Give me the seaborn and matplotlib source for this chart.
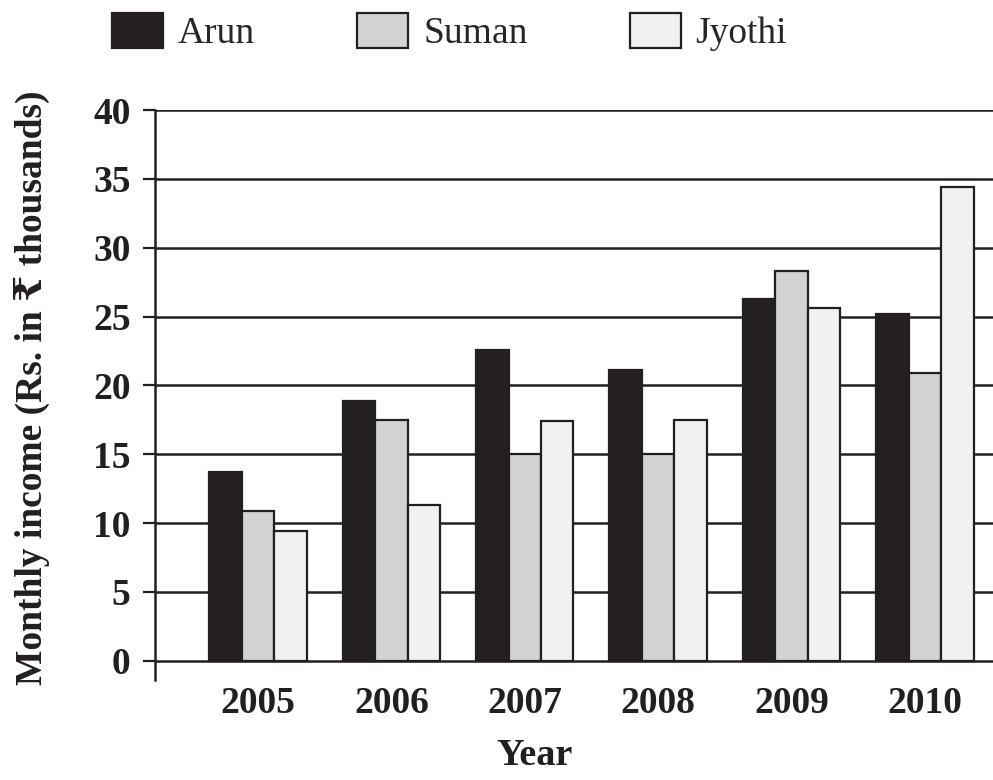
import pandas as pd
import numpy as np
import matplotlib.pyplot as plt
import seaborn as sns

sns.set_style("white")
plt.rcParams['font.family'] = ['Liberation Serif', 'DejaVu Serif', 'DejaVu Sans']

years = ["2005", "2006", "2007", "2008", "2009", "2010"]
arun = [13.7, 18.9, 22.6, 21.1, 26.3, 25.2]
suman = [10.9, 17.5, 15.0, 15.0, 28.3, 20.9]
jyothi = [9.4, 11.3, 17.4, 17.5, 25.6, 34.4]
names = ["Arun", "Suman", "Jyothi"]
colors = ["#231f20", "#d1d3d4", "#f1f1f1"]

df = pd.DataFrame({"Year": years, "Arun": arun, "Suman": suman, "Jyothi": jyothi})
df = df.melt(id_vars="Year", var_name="name", value_name="income")

dark = "#231f20"
fig = plt.figure(figsize=(9.93, 7.8), dpi=100)
ax = fig.add_axes([155/993, 100/780, 1 - 155/993, 570/780])

# horizontal grid lines behind bars
for v in range(0, 45, 5):
    ax.axhline(v, color=dark, lw=1.8, zorder=0)

sns.barplot(data=df, x="Year", y="income", hue="name", hue_order=names,
            palette=colors, width=0.73, gap=0, edgecolor=dark, linewidth=1.6,
            saturation=1, ax=ax, zorder=2, legend=False)

ax.set_ylim(-1.4, 40)
ax.set_xlim(-0.772, 5.51)
ax.set_yticks(range(0, 45, 5))
for s in ["top", "right", "bottom"]:
    ax.spines[s].set_visible(False)
ax.spines["left"].set_color(dark)
ax.spines["left"].set_linewidth(1.8)
ax.tick_params(axis="y", left=True, length=8.6, width=1.6, color=dark,
               labelsize=27, pad=9)
ax.tick_params(axis="x", bottom=False, labelsize=27, pad=1)
for lab in ax.get_xticklabels() + ax.get_yticklabels():
    lab.set_fontweight("bold")
    lab.set_color(dark)

ax.set_xlabel("Year", fontsize=27.5, fontweight="bold", color=dark)
ax.xaxis.set_label_coords((535 - 155) / 838, (680 - 738) / 570)
ax.set_ylabel("Monthly income (Rs. in ₹ thousands)", fontsize=27,
              fontweight="bold", color=dark)
ax.yaxis.set_label_coords((50 - 155) / 838, (680 - 388) / 570)

handles = [plt.Rectangle((0, 0), 1, 1, facecolor=c, edgecolor=dark, lw=1.6)
           for c in colors]
fig.legend(handles, names, loc="center left", bbox_to_anchor=(112/993, 1 - 32/780),
           ncol=3, frameon=False, fontsize=27, borderpad=0, borderaxespad=0,
           handlelength=1.36, handleheight=1.05, handletextpad=0.4,
           columnspacing=2.72)

plt.savefig("out.png", dpi=100)
